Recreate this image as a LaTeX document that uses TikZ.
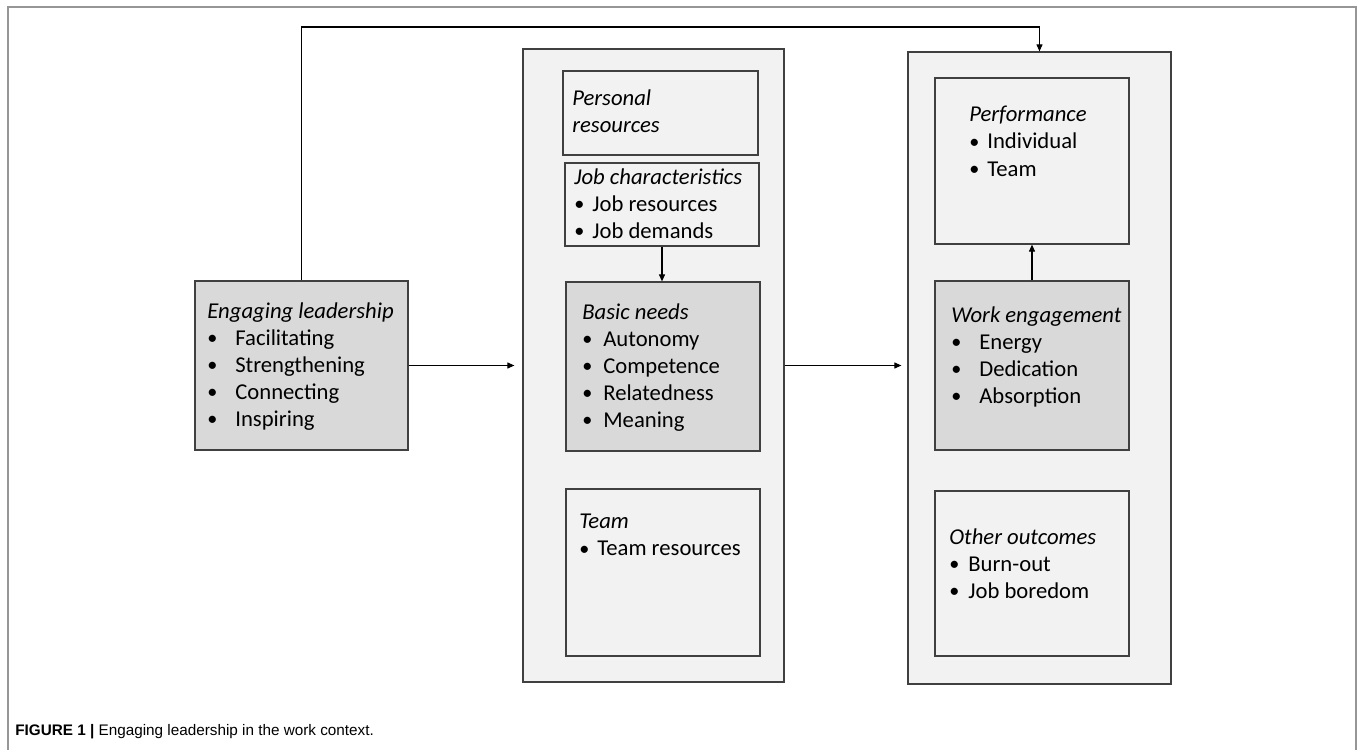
\documentclass[tikz,border=0pt]{standalone}
\usepackage{fontspec}
\setmainfont{Carlito}
\newfontfamily\capfont{Liberation Sans}
\usetikzlibrary{fit,arrows.meta}
\definecolor{panelgray}{RGB}{242,242,242}
\definecolor{needgray}{RGB}{217,217,217}
\definecolor{edgegray}{RGB}{64,64,64}
\definecolor{framegray}{RGB}{150,150,150}
\newcommand{\blt}[1]{\makebox[#1][l]{\raisebox{0.03em}{\fontsize{11.5}{12}\selectfont\textbullet}}}

\begin{document}
\begin{tikzpicture}[x=0.02cm, y=-0.02cm,
  panel/.style={draw=edgegray, fill=panelgray, line width=0.7pt, inner sep=0pt},
  shaded/.style={panel, fill=needgray},
  txt/.style={anchor=north west, inner sep=0pt, align=left, font=\fontsize{12.9}{15.4}\selectfont},
  arr/.style={-{Triangle[length=0.14cm,width=0.12cm]}, line width=0.6pt}]
\useasboundingbox (0,0) rectangle (1357,750);
% Draw figure frame
\draw[framegray, line width=0.6pt] (8,750) -- (8,7) -- (1356,7) -- (1356,750);

% Leadership box
\node[shaded, fit={(195,281) (408,450)}] (lead) {};
\node[txt] (leadtxt) at (207,302) {\textit{Engaging leadership}\\
  \blt{0.56cm}Facilitating\\ \blt{0.56cm}Strengthening\\
  \blt{0.56cm}Connecting\\ \blt{0.56cm}Inspiring};

% Middle column
\node[panel, fit={(523,49) (784,682)}] (mid) {};
\node[panel, fit={(563,71) (758,155)}] (pers) {};
\node[txt] (perstxt) at (572,89) {\textit{Personal}\\ \textit{resources}};
\node[panel, fit={(565,163) (759,246)}] (jobc) {};
\node[txt] (jobctxt) at (574,168) {\textit{Job characteristics}\\
  \blt{0.36cm}Job resources\\ \blt{0.36cm}Job demands};
\node[shaded, fit={(566,282) (760,451)}] (needs) {};
\node[txt] (needstxt) at (582,303) {\textit{Basic needs}\\
  \blt{0.42cm}Autonomy\\ \blt{0.42cm}Competence\\
  \blt{0.42cm}Relatedness\\ \blt{0.42cm}Meaning};
\node[panel, fit={(566,489) (760,656)}] (team) {};
\node[txt] (teamtxt) at (579,514) {\textit{Team}\\ \blt{0.36cm}Team resources};

% Right column
\node[panel, fit={(908,52) (1171,684)}] (right) {};
\node[panel, fit={(935,78) (1129,244)}] (perf) {};
\node[txt] (perftxt) at (969,106) {\textit{Performance}\\
  \blt{0.36cm}Individual\\ \blt{0.36cm}Team};
\node[shaded, fit={(935,281) (1129,450)}] (engage) {};
\node[txt] (engagetxt) at (951,306) {\textit{Work engagement}\\
  \blt{0.56cm}Energy\\ \blt{0.56cm}Dedication\\ \blt{0.56cm}Absorption};
\node[panel, fit={(935,491) (1129,656)}] (other) {};
\node[txt] (othertxt) at (949,528) {\textit{Other outcomes}\\
  \blt{0.38cm}Burn-out\\ \blt{0.38cm}Job boredom};

% Connecting arrows
\coordinate (loop) at (0,27);
\draw[arr, shorten >=0.16cm] (lead) -- (mid);
\draw[arr, shorten >=0.12cm] (mid.east) -- (mid.east -| right.west);
\foreach \a/\b in {jobc.south/needs.north, engage.north/perf.south} {
    \draw[arr] (\a) -- (\a |- \b);
}
\draw[arr] (lead.north) -- (lead.north |- loop) -| (right.north);

% Caption
\node[anchor=west, inner sep=0pt, font=\capfont\fontsize{8.7}{10}\selectfont] (caption) at (15,732)
  {\textbf{FIGURE 1 |} Engaging leadership in the work context.};
\end{tikzpicture}
\end{document}
